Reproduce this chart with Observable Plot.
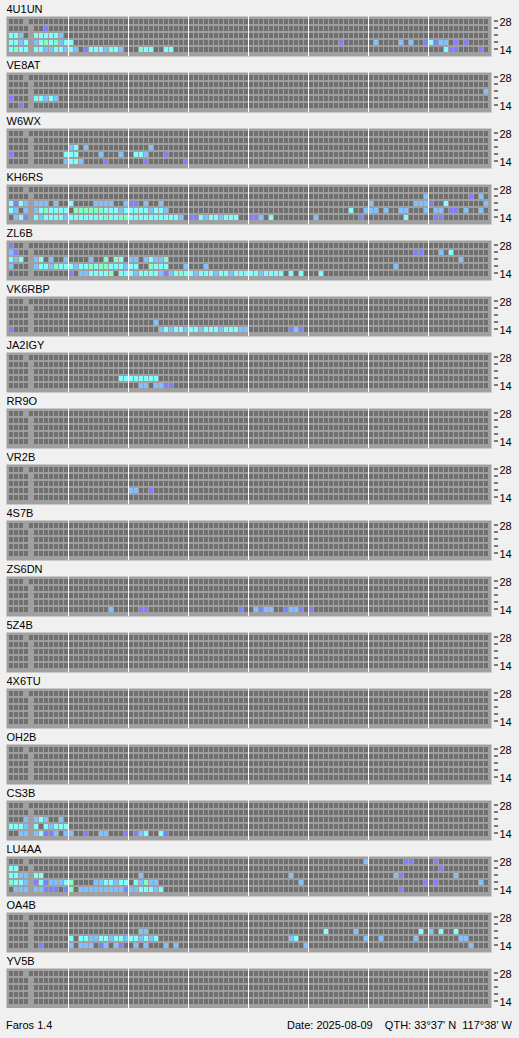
<!DOCTYPE html>
<html><head><meta charset="utf-8">
<script src="https://cdn.jsdelivr.net/npm/d3@7"></script>
<script src="https://cdn.jsdelivr.net/npm/@observablehq/plot@0.6"></script>
<style>
html,body{margin:0;padding:0;background:#f0f0f0;}
#chart svg{display:block;}
.foot{position:absolute;top:1019px;font:11px "Liberation Sans",Arial,sans-serif;color:#000;white-space:pre;}
</style></head><body>
<div id="chart"></div>
<div class="foot" style="left:6px">Faros 1.4</div>
<div class="foot" style="right:7px">Date: 2025-08-09    QTH: 33°37' N  117°38' W</div>
<script>
const stations = ["4U1UN","VE8AT","W6WX","KH6RS","ZL6B","VK6RBP","JA2IGY","RR9O","VR2B","4S7B","ZS6DN","5Z4B","4X6TU","OH2B","CS3B","LU4AA","OA4B","YV5B"];
const bands = ["28","24","21","18","14"];
const bandLabels = {"28": "28", "14": "14"};
const slotCount = 96;
const hourMarks = [12, 24, 36, 48, 60, 72, 84];
const cursorSlot = {"28": 3, "24": 4, "21": 4, "18": 4, "14": 4};
const levels = [".", "1", "2", "3", "4"];
const levelColors = ["#707070", "#8080ff", "#80c0ff", "#80ffff", "#80ffc0"];

// signal level per slot ('.' none, 1 weak .. 4 strong); rows = 28,24,21,18,14 MHz; groups of 12 slots
const E = "............|............|............|............|............|............|............|............";
const sig_4U1UN = [
  E,
  ".......1....|............|............|............|............|............|............|............",
  "332..333332.|............|............|............|............|............|............|............",
  "3323.2343423|3...........|............|............|............|......1.....|.2....2.2..1|3122.1.1....",
  "3433.3322332|32.13332332.|..433..33...|............|............|............|............|...311....1."
];
const sig_VE8AT = [
  E, E,
  "............|............|............|............|............|............|............|...........2",
  "1....33232..|............|............|............|............|............|............|............",
  "..1.........|............|............|............|............|............|............|............"
];
const sig_W6WX = [
  E, E,
  "............|23.2........|....2.......|............|............|............|............|............",
  "1..........3|33....2...2.|.332...1....|............|............|............|............|............",
  "...........2|332....1....|...1.......1|............|............|............|............|............"
];
const sig_KH6RS = [
  E,
  "............|............|............|............|............|............|...........2|........1.2.",
  "3132.222.2..|3....2222..2|11.2..2.....|............|............|............|2........222|1..3.......2",
  "32.2.2343333|.44444433323|33332332....|............|............|........3..2|22.2..22...2|.22.11.2..2.",
  ".231.3233332|333333343344|33333333332.|1132332333..|112.3.......|.2........1.|.......3....|.11........."
];
const sig_ZL6B = [
  "1...........|............|............|............|............|............|............|............",
  "21..........|............|............|............|............|............|.........11.|..2.3.......",
  "323..23.2..2|....2..4.43.|22.23224....|............|............|............|............|......2.....",
  "2....2332433|323343443332|33..4333...2|...2........|............|............|.....2......|............",
  "............|1.2233334.33|323333212343|323332332333|3323333.3.3.|..3.........|............|............"
];
const sig_VK6RBP = [
  E, E, E,
  "............|............|.....2......|............|............|............|............|............",
  "1...........|............|......232332|332333233322|........121.|............|............|............"
];
const sig_JA2IGY = [
  E, E, E,
  "............|..........33|333333......|............|............|............|............|............",
  "............|............|..22.2211...|............|............|............|............|............"
];
const sig_RR9O = [E, E, E, E, E];
const sig_VR2B = [
  E, E, E,
  "............|............|22..1.......|............|............|............|............|............",
  E
];
const sig_4S7B = [E, E, E, E, E];
const sig_ZS6DN = [
  E, E, E, E,
  "............|........2...|..11........|..........1.|.2122..1221.|1...........|............|............"
];
const sig_5Z4B = [E, E, E, E, E];
const sig_4X6TU = [E, E, E, E, E];
const sig_OH2B = [E, E, E, E, E];
const sig_CS3B = [
  E, E,
  "...2.232..2.|............|............|............|............|............|............|............",
  "3332.3.32333|............|............|............|............|............|............|............",
  "..22.23112.2|2..1..22...1.|123..31.....|............|............|............|............|............"
];
const sig_LU4AA = [
  "............|............|............|............|............|...........2|.......11...|.1..........",
  "33..........|............|............|............|............|............|............|..1.........",
  "3322.33.....|............|..2.........|............|........2...|............|.....21.....|.....2......",
  "4332.1312223|4....2233233|.32422......|............|..........2.|............|...........1|.1........2.",
  ".222.22111.1|4.2222222221|2233323.....|............|............|............|......1.....|............"
];
const sig_OA4B = [
  E, E,
  "............|............|..22........|............|............|...3.....2..|..........3.|2.3..3......",
  "............|3.3322332332|332323......|............|........23..|...........2|..2......2..|......22....",
  "......1.....|2.222.12.21.|.2.2...2.2..|............|...........2|............|............|........2..."
];
const sig_YV5B = [E, E, E, E, E];

const signals = {"4U1UN": sig_4U1UN, "VE8AT": sig_VE8AT, "W6WX": sig_W6WX, "KH6RS": sig_KH6RS, "ZL6B": sig_ZL6B,
  "VK6RBP": sig_VK6RBP, "JA2IGY": sig_JA2IGY, "RR9O": sig_RR9O, "VR2B": sig_VR2B, "4S7B": sig_4S7B,
  "ZS6DN": sig_ZS6DN, "5Z4B": sig_5Z4B, "4X6TU": sig_4X6TU, "OH2B": sig_OH2B, "CS3B": sig_CS3B,
  "LU4AA": sig_LU4AA, "OA4B": sig_OA4B, "YV5B": sig_YV5B};

function cellsFor(st) {
  const out = [];
  bands.forEach((b, bi) => {
    const s = signals[st][bi].replace(/\|/g, "");
    for (let k = 0; k < slotCount; ++k) {
      if (k === cursorSlot[b]) continue;
      out.push({band: b, slot: k, level: s[k] || "."});
    }
  });
  return out;
}

const root = document.getElementById("chart");
for (const st of stations) {
  const svg = Plot.plot({
    width: 519, height: 56,
    marginTop: 16, marginBottom: 0, marginLeft: 6, marginRight: 28,
    style: {background: "transparent", fontFamily: "'Liberation Sans', Arial, sans-serif", fontSize: "11px", color: "#000", overflow: "visible"},
    x: {type: "band", domain: d3.range(slotCount), range: [6, 491], paddingInner: 0.2, paddingOuter: 0.6, axis: null},
    y: {type: "band", domain: bands, range: [18, 53], paddingInner: 2/7, paddingOuter: 1/7, axis: null, label: null},
    color: {type: "ordinal", domain: levels, range: levelColors},
    marks: [
      Plot.frame({fill: "#a0a0a0", stroke: "none"}),
      Plot.cell(cellsFor(st), {x: "slot", y: "band", fill: "level"}),
      Plot.ruleX(hourMarks, {x: d => d, stroke: "#ffffff", dx: -3}),
      Plot.axisY({anchor: "right", label: null, tickSize: 4, dx: 2, dy: -1, tickFormat: () => ""}),
      Plot.axisY({anchor: "right", label: null, tickSize: 0, tickPadding: 8, dy: 0.5, tickFormat: d => bandLabels[d] ?? ""}),
      Plot.text([st], {text: d => d, frameAnchor: "top-left", textAnchor: "start", lineAnchor: "bottom", dy: -4, fontSize: 11})
    ]
  });
  root.append(svg);
}
</script>
</body></html>
